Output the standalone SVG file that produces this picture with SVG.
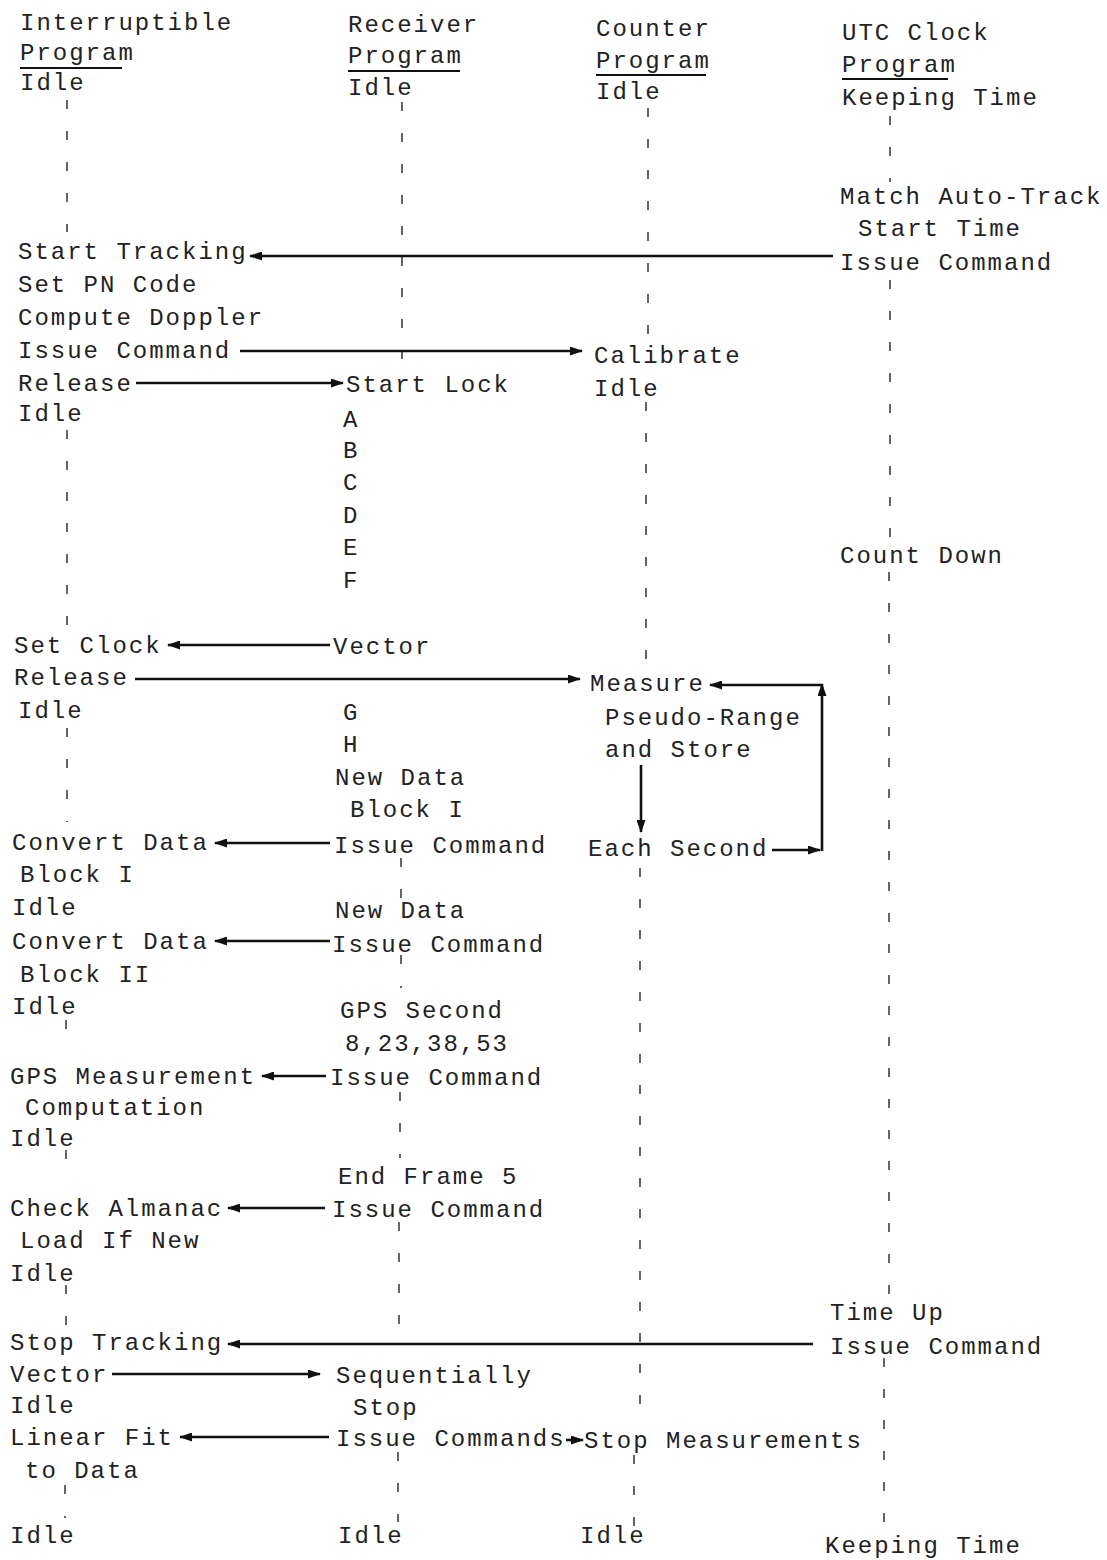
<svg xmlns="http://www.w3.org/2000/svg" width="1107" height="1560" viewBox="0 0 1107 1560">
<style>
text{font-family:"Liberation Mono","DejaVu Sans Mono",monospace;font-size:24px;letter-spacing:2px;fill:#222}
.ll{stroke:#333;stroke-width:1.5;stroke-dasharray:9 22;fill:none}
.ar{stroke:#111;stroke-width:2.6;fill:none;marker-end:url(#ah)}
.ul{stroke:#111;stroke-width:2}
</style>
<defs>
<marker id="ah" markerUnits="userSpaceOnUse" markerWidth="13" markerHeight="9" refX="12" refY="4.5" orient="auto">
<path d="M0,0 L13,4.5 L0,9 z" fill="#111"/>
</marker>
</defs>
<rect width="1107" height="1560" fill="#fff"/>

<g id="lifelines">
<path class="ll" d="M67,100 V232 M67,430 V628 M67,728 V822 M66,1020 V1050 M66,1150 V1168 M66,1285 V1328 M65,1485 V1518"/>
<path class="ll" d="M402,102 V372 M401,858 V900 M401,955 V988 M400,1092 V1158 M399,1222 V1330 M398,1452 V1522"/>
<path class="ll" d="M648,108 V342 M646,402 V668 M640,868 V1422 M634,1455 V1528"/>
<path class="ll" d="M890,116 V182 M890,280 V542 M889,572 V1300 M884,1358 V1532"/>
</g>

<g id="head-interruptible"><text x="20" y="30">Interruptible</text><text x="20" y="60">Program</text><line class="ul" x1="20" y1="68" x2="122" y2="68"/><text x="20" y="90">Idle</text></g>
<g id="head-receiver"><text x="348" y="32">Receiver</text><text x="348" y="63">Program</text><line class="ul" x1="348" y1="71" x2="460" y2="71"/><text x="348" y="95">Idle</text></g>
<g id="head-counter"><text x="596" y="36">Counter</text><text x="596" y="68">Program</text><line class="ul" x1="596" y1="75" x2="706" y2="75"/><text x="596" y="99">Idle</text></g>
<g id="head-utc"><text x="842" y="40">UTC Clock</text><text x="842" y="72">Program</text><line class="ul" x1="842" y1="79" x2="948" y2="79"/><text x="842" y="105">Keeping Time</text></g>

<g id="utc-match"><text x="840" y="204">Match Auto-Track</text><text x="858" y="236">Start Time</text><text x="840" y="270">Issue Command</text></g>
<g id="int-start"><text x="18" y="259">Start Tracking</text><text x="18" y="292">Set PN Code</text><text x="18" y="325">Compute Doppler</text><text x="18" y="358">Issue Command</text><text x="18" y="391">Release</text><text x="18" y="421">Idle</text></g>
<g id="cnt-calibrate"><text x="594" y="363">Calibrate</text><text x="594" y="396">Idle</text></g>
<g id="rcv-lock"><text x="346" y="392">Start Lock</text><text x="343" y="427">A</text><text x="343" y="458">B</text><text x="343" y="490">C</text><text x="343" y="523">D</text><text x="343" y="555">E</text><text x="343" y="588">F</text></g>
<g id="utc-count"><text x="840" y="563">Count Down</text></g>
<g id="int-setclock"><text x="14" y="653">Set Clock</text><text x="14" y="685">Release</text><text x="18" y="718">Idle</text></g>
<g id="rcv-vector"><text x="333" y="654">Vector</text><text x="343" y="720">G</text><text x="343" y="752">H</text><text x="335" y="785">New Data</text><text x="350" y="817">Block I</text><text x="334" y="853">Issue Command</text></g>
<g id="cnt-measure"><text x="590" y="691">Measure</text><text x="605" y="725">Pseudo-Range</text><text x="605" y="757">and Store</text><text x="588" y="856">Each Second</text></g>
<g id="int-convert1"><text x="12" y="850">Convert Data</text><text x="20" y="882">Block I</text><text x="12" y="915">Idle</text></g>
<g id="rcv-newdata2"><text x="335" y="918">New Data</text><text x="332" y="952">Issue Command</text></g>
<g id="int-convert2"><text x="12" y="949">Convert Data</text><text x="20" y="982">Block II</text><text x="12" y="1014">Idle</text></g>
<g id="rcv-gps"><text x="340" y="1018">GPS Second</text><text x="345" y="1051">8,23,38,53</text><text x="330" y="1085">Issue Command</text></g>
<g id="int-gps"><text x="10" y="1084">GPS Measurement</text><text x="25" y="1115">Computation</text><text x="10" y="1146">Idle</text></g>
<g id="rcv-endframe"><text x="338" y="1184">End Frame 5</text><text x="332" y="1217">Issue Command</text></g>
<g id="int-almanac"><text x="10" y="1216">Check Almanac</text><text x="20" y="1248">Load If New</text><text x="10" y="1281">Idle</text></g>
<g id="utc-timeup"><text x="830" y="1320">Time Up</text><text x="830" y="1354">Issue Command</text></g>
<g id="int-stop"><text x="10" y="1350">Stop Tracking</text><text x="10" y="1382">Vector</text><text x="10" y="1413">Idle</text><text x="10" y="1445">Linear Fit</text><text x="25" y="1478">to Data</text><text x="10" y="1543">Idle</text></g>
<g id="rcv-seq"><text x="336" y="1383">Sequentially</text><text x="353" y="1415">Stop</text><text x="336" y="1446">Issue Commands</text><text x="338" y="1543">Idle</text></g>
<g id="cnt-stop"><text x="584" y="1448">Stop Measurements</text><text x="580" y="1543">Idle</text></g>
<g id="utc-end"><text x="825" y="1553">Keeping Time</text></g>

<g id="connectors">
<line class="ar" x1="833" y1="256" x2="250" y2="256"/>
<line class="ar" x1="240" y1="351" x2="582" y2="351"/>
<line class="ar" x1="136" y1="383" x2="343" y2="383"/>
<line class="ar" x1="330" y1="645" x2="168" y2="645"/>
<line class="ar" x1="135" y1="679" x2="580" y2="679"/>
<line class="ar" x1="772" y1="850" x2="820" y2="850"/>
<line class="ar" x1="822" y1="851" x2="822" y2="684"/>
<line class="ar" x1="822" y1="685" x2="710" y2="685"/>
<line class="ar" x1="641" y1="765" x2="641" y2="832"/>
<line class="ar" x1="330" y1="843" x2="215" y2="843"/>
<line class="ar" x1="330" y1="941" x2="215" y2="941"/>
<line class="ar" x1="326" y1="1076" x2="262" y2="1076"/>
<line class="ar" x1="325" y1="1208" x2="228" y2="1208"/>
<line class="ar" x1="813" y1="1344" x2="228" y2="1344"/>
<line class="ar" x1="112" y1="1374" x2="320" y2="1374"/>
<line class="ar" x1="329" y1="1437" x2="180" y2="1437"/>
<line class="ar" x1="566" y1="1440" x2="583" y2="1440"/>
</g>
</svg>
